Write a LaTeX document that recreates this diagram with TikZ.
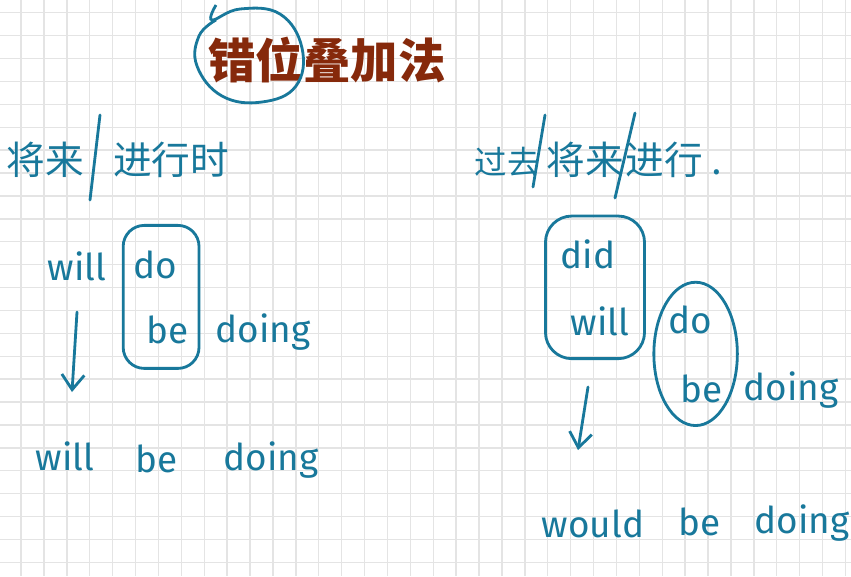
\documentclass[tikz,border=0pt]{standalone}
\usepackage{fontspec}
\setmainfont{Fira Sans}
\newfontfamily\cjk{Noto Sans CJK SC}
\usepackage{tikz}
\usetikzlibrary{positioning,arrows.meta,fit,shapes.geometric}
\definecolor{ink}{HTML}{18789B}
\definecolor{titlec}{HTML}{86290B}
\definecolor{gridc}{HTML}{E4E4E4}

\begin{document}
\begin{tikzpicture}[x=0.02cm, y=-0.02cm,
  word/.style={text=ink, font=\fontsize{21}{21}\selectfont, inner sep=0pt, anchor=base},
  hanzi/.style={text=ink, font=\cjk\fontsize{22}{22}\selectfont, inner sep=0pt},
  ring/.style={draw=ink, line width=1.6pt},
  arr/.style={-{Straight Barb[length=3mm,width=4.5mm]}, draw=ink, line width=1.6pt, line cap=round},
  slash/.style={draw=ink, line width=1.6pt, line cap=round}
]
  \fill[white] (0,0) rectangle (851,576);
  \useasboundingbox (0,0) rectangle (851,576);
  \foreach \i in {0,...,36}
    \draw[gridc, line width=0.8pt] ({21+22.9*\i},0) -- ({21+22.9*\i},576);
  \foreach \j in {0,...,24}
    \draw[gridc, line width=0.8pt] (0,{12.7+22.9*\j}) -- (851,{12.7+22.9*\j});

  \node[text=titlec, font=\cjk\bfseries\fontsize{27}{27}\selectfont, inner sep=0pt] (title) at (327,60) {错位叠加法};
  \draw[ring] plot[smooth, tension=0.7] coordinates {(216,5) (212,20) (240,9) (280,14) (302,48) (296,86) (262,102) (222,96) (197,66) (199,36) (216,20)};

  \node[hanzi] (fut) at (45,160) {将来};
  \node[hanzi] (prog) at (171,160) {进行时};
  \coordinate (s1a) at (100,115);
  \coordinate (s1b) at (90,200);
  \draw[slash] (s1a) -- (s1b);

  \node[hanzi, font=\cjk\fontsize{18.5}{18.5}\selectfont] (past) at (507,162) {过去};
  \node[hanzi] (fut2) at (585,160) {将来};
  \node[hanzi] (prog2) at (674,160) {进行 .};
  \coordinate (s2a) at (545,115);
  \coordinate (s2b) at (533,187);
  \coordinate (s3a) at (635,113);
  \coordinate (s3b) at (615,198);
  \draw[slash] (s2a) -- (s2b);
  \draw[slash] (s3a) -- (s3b);

  \node[word] (will1) at (77,280) {will};
  \node[word] (do1) at (155,278) {do};
  \node[word] (be1) at (168,343) {be};
  \node[word] (doing1) at (263,342) {doing};
  \node[ring, fit=(do1)(be1), inner xsep=5.5pt, inner ysep=14pt, rounded corners=12pt] (box1) {};
  \coordinate (a1s) at (77,312);
  \coordinate (a1e) at (72,392);
  \draw[arr] (a1s) -- (a1e);
  \node[word] (will2) at (65,470) {will};
  \node[word] (be2) at (157,472) {be};
  \node[word] (doing2) at (271,470) {doing};

  \node[word] (did) at (588,268) {did};
  \node[word] (will3) at (600,335) {will};
  \node[ring, fit=(did)(will3), inner xsep=8.5pt, inner ysep=13pt, rounded corners=15pt] (box2) {};
  \node[word] (do2) at (690,333) {do};
  \node[word] (be3) at (702,402) {be};
  \node[ring, ellipse, fit=(do2)(be3), inner sep=1pt] (box3) {};
  \node[word] (doing3) at (791,400) {doing};
  \coordinate (a2s) at (588,387);
  \coordinate (a2e) at (578,450);
  \draw[arr] (a2s) -- (a2e);
  \node[word] (would) at (593,537) {would};
  \node[word] (be4) at (700,535) {be};
  \node[word] (doing4) at (802,533) {doing};
\end{tikzpicture}
\end{document}
